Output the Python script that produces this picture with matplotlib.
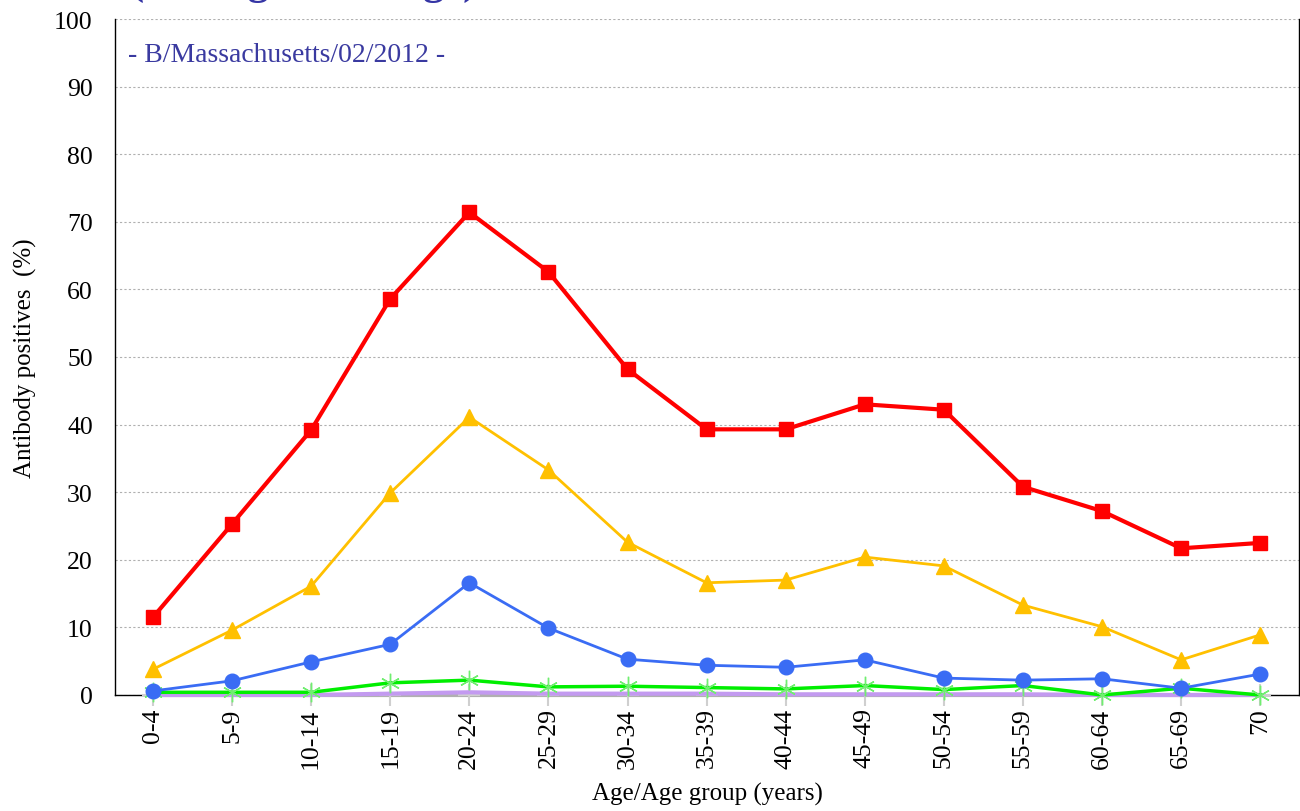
import matplotlib
matplotlib.use("Agg")
import numpy as np
from matplotlib import pyplot as plt

plt.rcParams["font.family"] = ["Liberation Serif", "DejaVu Serif"]

AGE_GROUPS = ["0-4", "5-9", "10-14", "15-19", "20-24", "25-29", "30-34",
              "35-39", "40-44", "45-49", "50-54", "55-59", "60-64", "65-69", "70"]

red = [11.5, 25.3, 39.2, 58.6, 71.4, 62.6, 48.2, 39.3, 39.3, 43.0, 42.2, 30.8, 27.2, 21.7, 22.5]
yellow = [3.8, 9.6, 16.1, 29.9, 41.1, 33.3, 22.6, 16.6, 17.0, 20.4, 19.1, 13.3, 10.1, 5.2, 8.9]
blue = [0.6, 2.1, 4.9, 7.5, 16.6, 9.9, 5.3, 4.4, 4.1, 5.2, 2.5, 2.2, 2.4, 1.0, 3.1]
green = [0.4, 0.4, 0.4, 1.8, 2.2, 1.2, 1.3, 1.1, 0.9, 1.4, 0.8, 1.4, 0.0, 1.0, 0.0]
purple = [0.0, 0.0, 0.0, 0.2, 0.4, 0.2, 0.2, 0.2, 0.1, 0.1, 0.1, 0.1, 0.0, 0.0, 0.0]
gray = [0.0] * 15

TITLE = "(Yamagata lineage)"
STRAIN = "- B/Massachusetts/02/2012 -"

fig = plt.figure(figsize=(13, 8.12), dpi=100)
ax = fig.add_axes([115 / 1300, 116 / 812, 1184 / 1300, 676 / 812])

x = np.arange(len(AGE_GROUPS))

ax.plot(x, gray, color="#b0b0b0", lw=3, marker="+", ms=16, mew=1.5,
        mec="#cfcfcf", clip_on=False, zorder=3)
ax.plot(x, purple, color="#c39af0", lw=3, zorder=4, clip_on=False)
ax.plot(x, green, color="#00ee00", lw=2.5, marker=(6, 2, 0), ms=14, mew=1,
        mec="#70ee70", clip_on=False, zorder=5)
ax.plot(x, blue, color="#3a6cf4", lw=2, marker="o", ms=10.5, clip_on=False, zorder=6)
ax.plot(x, yellow, color="#ffc000", lw=2, marker="^", ms=12, clip_on=False, zorder=7)
ax.plot(x, red, color="#ff0000", lw=3, marker="s", ms=10, clip_on=False, zorder=8)

ax.set_xlim(-0.48, 14.49)
ax.set_ylim(0, 100)
ax.set_yticks(np.arange(0, 101, 10))
ax.set_xticks(x)
ax.set_xticklabels(AGE_GROUPS, rotation=90)
ax.tick_params(axis="both", length=0, labelsize=18.5)
ax.tick_params(axis="x", pad=9)
ax.tick_params(axis="y", pad=16)
ax.yaxis.grid(True, linestyle=(0, (2, 2)), color="#b0b0b0", lw=0.8)
ax.set_axisbelow(True)

ax.spines["top"].set_visible(False)
for side in ("left", "bottom", "right"):
    ax.spines[side].set_color("black")
    ax.spines[side].set_linewidth(1)

ax.set_ylabel("Antibody positives  (%)", fontsize=18, labelpad=12)
ax.set_xlabel("Age/Age group (years)", fontsize=18, labelpad=10)

ax.text(0.011, 0.947, STRAIN, transform=ax.transAxes, fontsize=20,
        color="#3a3aa0", va="center", ha="left")
fig.text(130 / 1300, 1 + 6 / 812, TITLE, fontsize=30.5, fontweight="bold",
         color="#3535a5", ha="left", va="baseline")

fig.savefig("out.png", dpi=100)
